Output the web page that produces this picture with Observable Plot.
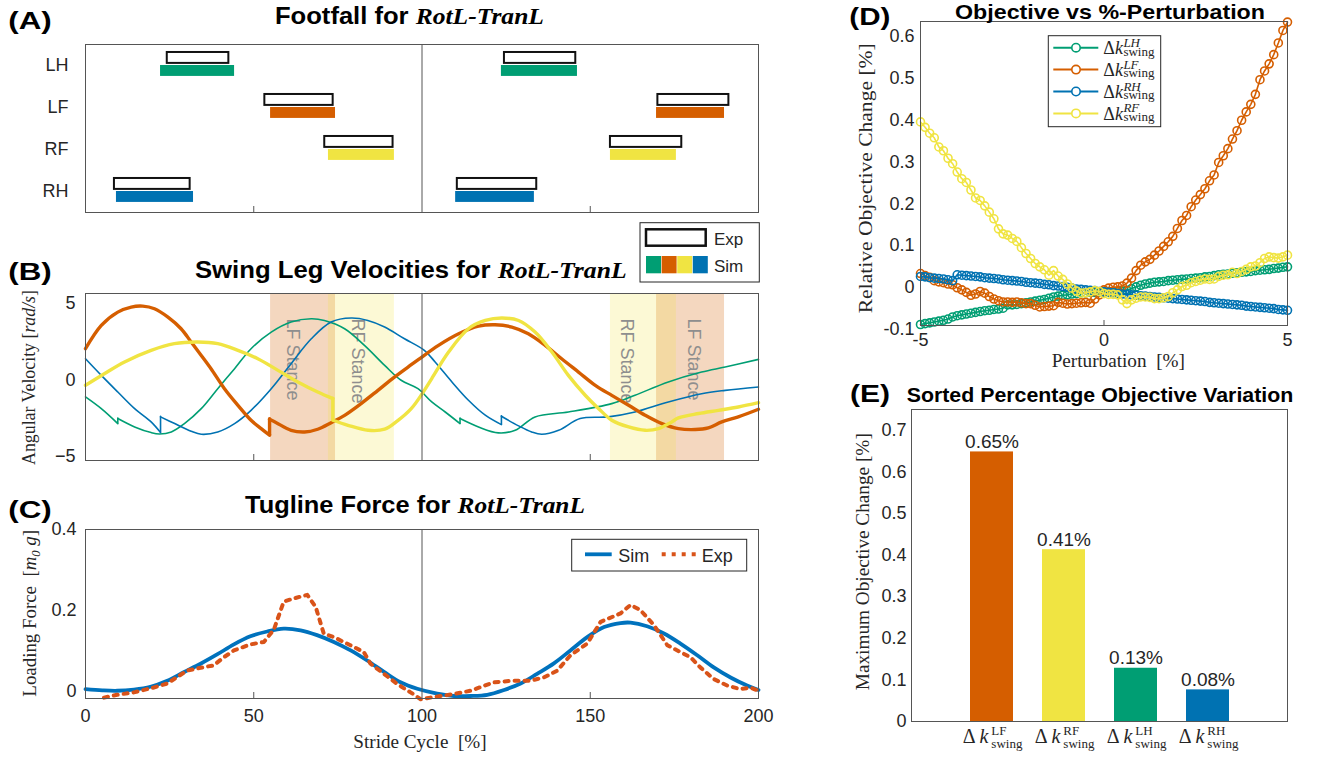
<!DOCTYPE html>
<html>
<head>
<meta charset="utf-8">
<script src="https://cdn.jsdelivr.net/npm/d3@7"></script>
<script src="https://cdn.jsdelivr.net/npm/@observablehq/plot@0.6"></script>
<style>
html,body{margin:0;padding:0;background:#fff;}
#root{position:relative;width:1319px;height:758px;overflow:hidden;background:#fff;}
.pl{position:absolute;}
</style>
</head>
<body>
<div id="root"></div>
<script>
// ================= DATA =================
const legs = ["LH", "LF", "RF", "RH"];
const legColors = ["#009E73", "#D55E00", "#F0E442", "#0072B2"];

// (A) footfall: stance intervals [% stride], per leg (LH, LF, RF, RH)
const expOn1  = [24.3, 53.3, 71.1, 8.6];
const expOff1 = [42.6, 73.6, 91.4, 31.1];
const expOn2  = [124.5, 170.1, 156.0, 110.5];
const expOff2 = [145.7, 191.2, 177.2, 134.1];
const simOn1  = [22.3, 55.0, 72.2, 9.2];
const simOff1 = [44.3, 74.3, 91.8, 32.1];
const simOn2  = [123.6, 169.7, 156.0, 110.0];
const simOff2 = [146.2, 189.9, 175.6, 133.4];

// (B) swing leg angular velocities [rad/s]; repeated x = discontinuity
const velLH_x = [0,4.7,9.6, 9.6,14.6,19.5,22.0,25.5,29.4,34.4,39.3,44.3,49.2,55.2,61.1,67.1,71.0,77.0,82.9,88.9,93.8,98.8,102.9,106.9,111.3, 111.3,116.8,122.7,127.7,133.6,143.5,156.4,163.3,173.2,183.1,190.1,200];
const velLH_v = [-1.11,-1.88,-2.86, -2.53,-3.08,-3.45,-3.54,-3.41,-2.86,-1.88,-0.57,0.74,2.05,3.14,3.80,4.01,3.90,3.36,2.27,0.96,-0.02,-0.57,-1.44,-2.10,-2.86, -2.53,-3.08,-3.47,-3.30,-2.42,-2.10,-1.55,-1.00,-0.13,0.52,0.85,1.35];
const velLF_x = [0,4.7,9.6,13.6,17.0,20.5,24.5,28.4,31.4,34.4,37.3,41.3,45.3,49.2,52.2,54.7, 54.7,56.7,61.1,65.1,69.0,73.0,77.0,81.9,86.9,91.8,96.8,99.0,104.9,110.9,116.8,121.7,126.7,131.6,136.6,141.5,146.5,151.5,156.4,161.4,166.3,171.3,176.2,181.2,185.1,189.1,194.0,200];
const velLF_v = [2.05,3.58,4.45,4.78,4.84,4.67,4.12,3.36,2.49,1.61,0.74,-0.57,-1.66,-2.64,-3.19,-3.62, -2.58,-2.80,-3.30,-3.41,-3.23,-2.80,-2.32,-1.55,-0.68,0.19,1.00,1.35,2.27,3.03,3.53,3.62,3.47,3.03,2.27,1.39,0.52,-0.35,-1.01,-1.66,-2.31,-2.86,-3.19,-3.25,-3.14,-2.75,-2.42,-1.92];
const velRF_x = [0,5.6,11.6,19.5,26.4,33.4,39.3,45.3,51.2,57.2,63.1,69.0,73.5, 73.5,78.0,84.0,88.9,92.3,96.8,100.7,102.9,107.9,113.8,118.8,123.7,128.7,133.6,138.6,143.5,148.5,152.5,156.4,161.4,166.3,170.3,174.2,176.2,182.2,188.1,194.0,200];
const velRF_v = [-0.35,0.41,1.18,1.94,2.38,2.49,2.38,1.94,1.39,0.63,-0.13,-0.79,-1.22, -2.64,-2.97,-3.30,-3.23,-2.75,-1.88,-0.68,0.09,1.83,3.36,3.90,4.06,3.90,3.14,1.83,0.30,-1.00,-1.88,-2.64,-3.08,-3.30,-3.19,-2.75,-2.49,-2.20,-1.99,-1.77,-1.49];
const velRH_x = [0,4.7,9.6,14.6,19.5,22.3, 22.3,26.5,31.4,34.4,39.3,44.3,49.2,55.2,61.1,67.1,73.0,79.0,83.9,88.9,94.8,100.7,103.9,108.9,113.8,118.8,123.6, 123.6,128.7,132.6,135.6,140.6,147.0,155.4,163.3,173.2,183.1,190.1,200];
const velRH_v = [1.39,0.30,-0.79,-1.88,-2.75,-3.45, -2.42,-2.86,-3.36,-3.56,-3.41,-2.86,-1.99,-0.57,1.07,2.70,3.80,4.06,3.90,3.47,2.70,1.94,1.18,-0.13,-1.33,-2.31,-2.93, -2.38,-3.01,-3.41,-3.56,-3.30,-2.53,-2.42,-2.10,-1.44,-0.90,-0.68,-0.46];

// (C) tugline force [m0 g]
const tugSimX = [0,5,9.4,14.4,19.3,24.3,29.2,34.2,39.1,44.1,49.0,54.0,58.9,63.9,68.8,73.8,78.8,83.7,88.7,93.6,98.6,104.5,109.5,114.4,119.4,124.4,129.3,134.2,139.2,144.1,149.1,154.1,159.0,162.0,166.9,171.9,176.8,181.8,186.7,191.7,196.6,200];
const tugSimV = [0.004,0.001,0.000,0.003,0.010,0.025,0.046,0.067,0.090,0.115,0.135,0.147,0.154,0.150,0.138,0.121,0.100,0.075,0.047,0.021,0.005,-0.007,-0.013,-0.013,-0.010,0.002,0.018,0.042,0.068,0.100,0.133,0.158,0.168,0.169,0.160,0.142,0.117,0.088,0.058,0.033,0.013,0.002];
const tugExpX = [5.5,9.4,14.4,20.3,24.3,30.2,34.2,38.1,41.1,44.1,49.0,53.0,56.0,58.9,61.9,65.9,68.4,70.8,73.8,78.7,82.7,84.7,88.7,92.6,96.6,99.6,102.5,109.5,114.4,121.3,127.3,132.2,136.2,140.2,144.1,149.1,153.1,159.0,162.0,164.9,168.9,172.9,176.8,179.8,182.7,186.7,190.7,194.6,197.6,200];
const tugExpV = [-0.017,-0.010,-0.004,0.008,0.018,0.050,0.057,0.063,0.083,0.100,0.115,0.121,0.152,0.221,0.229,0.238,0.208,0.142,0.133,0.113,0.096,0.067,0.042,0.017,-0.004,-0.021,-0.017,-0.008,0.000,0.021,0.025,0.025,0.033,0.050,0.088,0.117,0.171,0.192,0.213,0.200,0.163,0.113,0.096,0.083,0.058,0.029,0.013,0.004,0.008,0.000];

// (D) relative objective change [%] vs perturbation [%]
const perturb = [-5,-4.875,-4.75,-4.625,-4.5,-4.375,-4.25,-4.125,-4,-3.875,-3.75,-3.625,-3.5,-3.375,-3.25,-3.125,-3,-2.875,-2.75,-2.625,-2.5,-2.375,-2.25,-2.125,-2,-1.875,-1.75,-1.625,-1.5,-1.375,-1.25,-1.125,-1,-0.875,-0.75,-0.625,-0.5,-0.375,-0.25,-0.125,0,0.125,0.25,0.375,0.5,0.625,0.75,0.875,1,1.125,1.25,1.375,1.5,1.625,1.75,1.875,2,2.125,2.25,2.375,2.5,2.625,2.75,2.875,3,3.125,3.25,3.375,3.5,3.625,3.75,3.875,4,4.125,4.25,4.375,4.5,4.625,4.75,4.875,5];
const objLH = [-0.089,-0.087,-0.085,-0.083,-0.081,-0.079,-0.076,-0.071,-0.068,-0.066,-0.064,-0.062,-0.060,-0.058,-0.056,-0.055,-0.053,-0.052,-0.050,-0.042,-0.042,-0.041,-0.039,-0.037,-0.035,-0.033,-0.031,-0.029,-0.026,-0.023,-0.021,-0.019,-0.018,-0.016,-0.015,-0.013,-0.013,-0.012,-0.012,-0.011,-0.011,-0.011,-0.010,-0.010,-0.009,-0.007,-0.003,0.001,0.005,0.008,0.010,0.012,0.013,0.014,0.016,0.017,0.018,0.019,0.020,0.021,0.022,0.023,0.025,0.026,0.028,0.030,0.031,0.032,0.034,0.035,0.036,0.037,0.038,0.040,0.041,0.042,0.043,0.045,0.046,0.048,0.049];
const objLF = [0.033,0.028,0.024,0.016,0.013,0.011,0.008,0.006,-0.001,-0.006,-0.012,-0.019,-0.016,-0.010,-0.014,-0.022,-0.028,-0.032,-0.035,-0.035,-0.036,-0.035,-0.037,-0.039,-0.039,-0.043,-0.047,-0.046,-0.045,-0.044,-0.036,-0.038,-0.040,-0.039,-0.038,-0.037,-0.036,-0.038,-0.028,-0.018,-0.006,-0.002,0.000,0.001,0.003,0.010,0.022,0.040,0.053,0.061,0.067,0.077,0.087,0.098,0.109,0.122,0.141,0.160,0.172,0.193,0.209,0.222,0.236,0.255,0.269,0.299,0.315,0.332,0.355,0.375,0.400,0.420,0.438,0.462,0.497,0.518,0.535,0.557,0.585,0.615,0.635];
const objRH = [0.026,0.025,0.023,0.022,0.021,0.020,0.018,0.016,0.030,0.029,0.028,0.027,0.026,0.025,0.023,0.022,0.021,0.020,0.018,0.017,0.016,0.015,0.014,0.012,0.011,0.010,0.009,0.007,0.006,0.004,0.003,0.002,0.000,-0.002,-0.004,-0.005,-0.006,-0.007,-0.008,-0.010,-0.011,-0.012,-0.013,-0.015,-0.016,-0.017,-0.018,-0.019,-0.020,-0.021,-0.022,-0.023,-0.024,-0.025,-0.026,-0.027,-0.028,-0.029,-0.030,-0.031,-0.032,-0.033,-0.034,-0.036,-0.037,-0.038,-0.039,-0.040,-0.041,-0.042,-0.043,-0.045,-0.046,-0.047,-0.048,-0.049,-0.050,-0.051,-0.053,-0.054,-0.055];
const objRF = [0.396,0.383,0.369,0.358,0.336,0.327,0.309,0.296,0.276,0.260,0.251,0.233,0.214,0.208,0.195,0.180,0.164,0.140,0.128,0.125,0.117,0.110,0.095,0.081,0.069,0.057,0.049,0.042,0.029,0.040,0.027,0.019,0.008,-0.002,-0.009,-0.014,-0.013,-0.011,-0.008,-0.010,-0.015,-0.017,-0.017,-0.018,-0.030,-0.039,-0.030,-0.026,-0.023,-0.023,-0.024,-0.027,-0.027,-0.025,-0.022,-0.013,-0.006,0.002,0.005,0.011,0.014,0.017,0.020,0.019,0.020,0.026,0.029,0.030,0.036,0.033,0.038,0.043,0.049,0.051,0.059,0.069,0.073,0.071,0.070,0.073,0.077];

// (E) sorted maximum objective change [%]
const sortedLegs = ["LF", "RF", "LH", "RH"];
const maxChange = [0.648, 0.413, 0.128, 0.076];

// ================= HELPERS =================
const SANS = "'Liberation Sans', Arial, Helvetica, sans-serif";
const SERIF = "'Liberation Serif', 'Times New Roman', serif";
const INK = "#262626", FRAME = "#555";
const colorOf = leg => legColors[legs.indexOf(leg)];
const root = document.getElementById("root");
const baseStyle = {background: "transparent", overflow: "visible", fontFamily: SANS, fontSize: "18px", color: INK};
function dims(f, m) {
  return {width: f[2]-f[0]+m.l+m.r, height: f[3]-f[1]+m.t+m.b,
          marginLeft: m.l, marginRight: m.r, marginTop: m.t, marginBottom: m.b};
}
function place(svg, f, m) {
  const d = document.createElement("div");
  d.className = "pl";
  d.style.left = (f[0]-m.l) + "px";
  d.style.top = (f[1]-m.t) + "px";
  d.style.width = (f[2]-f[0]+m.l+m.r) + "px";
  d.appendChild(svg);
  root.appendChild(d);
  return svg;
}
const minusFmt = d => d < 0 ? "\u2212" + (-d) : String(d);
const noLab = {label: null};

// ================= (A) FOOTFALL =================
const rowOf = leg => 4 - legs.indexOf(leg);
const footExp = legs.flatMap((leg, i) => [{leg, on: expOn1[i], off: expOff1[i]}, {leg, on: expOn2[i], off: expOff2[i]}]);
const footSim = legs.flatMap((leg, i) => [{leg, on: simOn1[i], off: simOff1[i]}, {leg, on: simOn2[i], off: simOff2[i]}]);
const fA = [85, 44, 758, 212], mA = {t: 6, r: 6, b: 10, l: 80};
place(Plot.plot({
  ...dims(fA, mA), style: baseStyle,
  x: {domain: [0, 200], axis: null, label: null}, y: {domain: [0.5, 4.5], axis: null, label: null},
  color: {type: "identity"},
  marks: [
    Plot.rect(footSim, {x1: "on", x2: "off", y1: d => rowOf(d.leg) - 0.26, y2: d => rowOf(d.leg), fill: d => colorOf(d.leg)}),
    Plot.rect(footExp, {x1: "on", x2: "off", y1: d => rowOf(d.leg) + 0.05, y2: d => rowOf(d.leg) + 0.31, fill: "white", stroke: "#111", strokeWidth: 2}),
    Plot.ruleX([100], {stroke: FRAME}),
    Plot.frame({stroke: FRAME}),
    Plot.axisX([50, 150], {...noLab, anchor: "bottom", tickSize: -6, tickFormat: () => "", stroke: FRAME}),
    Plot.axisY(legs.map(rowOf), {...noLab, anchor: "left", tickSize: 0, tickPadding: 17, tickFormat: v => legs[4 - v], fontSize: 18})
  ]
}), fA, mA);

// ================= (B) VELOCITIES =================
function segs(xs, vs) {
  const pts = [], jumps = [];
  let s = 0;
  for (let i = 0; i < xs.length; i++) {
    if (i > 0 && xs[i] === xs[i-1]) { s++; jumps.push({x: xs[i], y1: vs[i-1], y2: vs[i]}); }
    pts.push({x: xs[i], v: vs[i], seg: s});
  }
  return {pts, jumps};
}
const stance = i => [{on: simOn1[i], off: simOff1[i]}, {on: simOn2[i], off: simOff2[i]}];
const stLF = stance(1), stRF = stance(2);
function freeCenter(a, others) {
  let lo = a.on, hi = a.off;
  for (const b of others) if (b.on < hi && b.off > lo) { if (b.on > lo) hi = Math.min(hi, b.on); else lo = Math.max(lo, b.off); }
  return (lo + hi) / 2;
}
const stanceText = [
  ...stLF.map(s => ({x: freeCenter(s, stRF), label: legs[1] + " Stance"})),
  ...stRF.map(s => ({x: freeCenter(s, stLF), label: legs[2] + " Stance"}))
];
const curves = [
  {leg: "LH", ...segs(velLH_x, velLH_v), w: 1.6},
  {leg: "RH", ...segs(velRH_x, velRH_v), w: 1.6},
  {leg: "LF", ...segs(velLF_x, velLF_v), w: 3.4},
  {leg: "RF", ...segs(velRF_x, velRF_v), w: 3.4}
];
const fB = [85, 293, 758, 460], mB = {t: 6, r: 6, b: 10, l: 80};
place(Plot.plot({
  ...dims(fB, mB), style: baseStyle,
  x: {domain: [0, 200], axis: null, label: null}, y: {domain: [-5.28, 5.67], axis: null, label: null},
  marks: [
    Plot.rect(stLF, {x1: "on", x2: "off", fill: colorOf("LF"), fillOpacity: 0.25}),
    Plot.rect(stRF, {x1: "on", x2: "off", fill: colorOf("RF"), fillOpacity: 0.22}),
    Plot.text(stanceText, {x: "x", frameAnchor: "top", dy: 25, text: "label", rotate: 90, textAnchor: "start", fill: "#8e8e8e", fontSize: 18}),
    ...curves.flatMap(c => [
      Plot.line(c.pts, {x: "x", y: "v", z: "seg", stroke: colorOf(c.leg), strokeWidth: c.w, curve: "catmull-rom", strokeLinecap: "round"}),
      Plot.ruleX(c.jumps, {x: "x", y1: "y1", y2: "y2", stroke: colorOf(c.leg), strokeWidth: c.w, strokeLinecap: "round"})
    ]),
    Plot.ruleX([100], {stroke: FRAME}),
    Plot.frame({stroke: FRAME}),
    Plot.axisX([50, 150], {...noLab, anchor: "bottom", tickSize: -6, tickFormat: () => "", stroke: FRAME}),
    Plot.axisY([-5, 0, 5], {...noLab, anchor: "left", tickSize: 0, tickPadding: 10, tickFormat: minusFmt, fontSize: 18})
  ]
}), fB, mB);

// ================= (C) TUGLINE =================
const tugSim = tugSimX.map((x, i) => ({x, v: tugSimV[i]}));
const tugExp = tugExpX.map((x, i) => ({x, v: tugExpV[i]}));
const fC = [85, 529, 758, 698], mC = {t: 6, r: 6, b: 40, l: 80};
place(Plot.plot({
  ...dims(fC, mC), style: baseStyle,
  x: {domain: [0, 200], axis: null, label: null}, y: {domain: [-0.0192, 0.4], axis: null, label: null},
  marks: [
    Plot.line(tugSim, {x: "x", y: "v", stroke: "#0072BD", strokeWidth: 3.8, curve: "catmull-rom"}),
    Plot.line(tugExp, {x: "x", y: "v", stroke: "#D95319", strokeWidth: 4, strokeDasharray: "4,6"}),
    Plot.ruleX([100], {stroke: FRAME}),
    Plot.frame({stroke: FRAME}),
    Plot.axisX([50, 150], {...noLab, anchor: "bottom", tickSize: -6, tickFormat: () => "", stroke: FRAME}),
    Plot.axisX([0, 50, 100, 150, 200], {...noLab, anchor: "bottom", tickSize: 0, tickPadding: 11, fontSize: 18}),
    Plot.axisY([0, 0.2, 0.4], {...noLab, anchor: "left", tickSize: 0, tickPadding: 9, tickFormat: d => String(d), fontSize: 18})
  ]
}), fC, mC);

// ================= (D) OBJECTIVE VS PERTURBATION =================
const objSeries = [["LH", objLH], ["LF", objLF], ["RH", objRH], ["RF", objRF]];
const fD = [920, 21, 1287, 325], mD = {t: 6, r: 6, b: 30, l: 60};
place(Plot.plot({
  ...dims(fD, mD), style: baseStyle,
  x: {domain: [-5, 5], axis: null, label: null}, y: {domain: [-0.0914, 0.6364], axis: null, label: null},
  marks: [
    ...objSeries.flatMap(([leg, vals]) => {
      const rows = perturb.map((p, i) => ({p, v: vals[i]}));
      return [
        Plot.line(rows, {x: "p", y: "v", stroke: colorOf(leg), strokeWidth: 1.6}),
        Plot.dot(rows, {x: "p", y: "v", r: 4, stroke: colorOf(leg), strokeWidth: 1.6, fill: "none"})
      ];
    }),
    Plot.frame({stroke: FRAME}),
    Plot.axisX([0], {...noLab, anchor: "bottom", tickSize: -5, tickFormat: () => "", stroke: FRAME}),
    Plot.axisX([-5, 0, 5], {...noLab, anchor: "bottom", tickSize: 0, tickPadding: 8, tickFormat: d => String(d), fontSize: 18}),
    Plot.axisY([-0.1, 0, 0.1, 0.2, 0.3, 0.4, 0.5, 0.6], {...noLab, anchor: "left", tickSize: 0, tickPadding: 6, tickFormat: d => String(d), fontSize: 18})
  ]
}), fD, mD);

// ================= (E) SORTED BARS =================
const eRows = sortedLegs.map((leg, i) => ({leg, val: maxChange[i]}));
const fE = [911, 409, 1287, 721], mE = {t: 6, r: 6, b: 40, l: 60};
const plotE = place(Plot.plot({
  ...dims(fE, mE), style: baseStyle,
  x: {type: "band", domain: sortedLegs, paddingInner: 0.404, paddingOuter: 0.806, axis: null, label: null},
  y: {domain: [0, 0.75], axis: null, label: null},
  color: {type: "identity"},
  marks: [
    Plot.barY(eRows, {x: "leg", y: "val", fill: d => colorOf(d.leg)}),
    Plot.text(eRows, {x: "leg", y: "val", text: d => d3.format(".2f")(d.val) + "%", dy: -10, fontSize: 19, fill: INK}),
    Plot.frame({stroke: FRAME}),
    Plot.axisY([0, 0.1, 0.2, 0.3, 0.4, 0.5, 0.6, 0.7], {...noLab, anchor: "left", tickSize: 0, tickPadding: 5, tickFormat: d => String(d), fontSize: 18})
  ]
}), fE, mE);

// ================= OVERLAY TEXT (titles, labels, legends) =================
const ov = d3.select(root).append("svg").attr("width", 1319).attr("height", 758)
  .style("position", "absolute").style("left", "0px").style("top", "0px");
function T(x, y, parts, o = {}) {
  const t = ov.append("text").attr("x", x).attr("y", y)
    .attr("text-anchor", o.anchor || "middle")
    .attr("font-family", o.family || SANS).attr("font-size", o.size || 18)
    .attr("font-weight", o.weight || "normal").attr("fill", o.fill || "#000");
  if (o.rotate) t.attr("transform", `rotate(${o.rotate},${x},${y})`);
  for (const p of [].concat(parts)) {
    const q = typeof p === "string" ? {t: p} : p;
    const s = t.append("tspan").text(q.t);
    if (q.family) s.attr("font-family", q.family);
    if (q.italic) s.attr("font-style", "italic");
    if (q.size) s.attr("font-size", q.size);
    if (q.dy) s.attr("dy", q.dy);
  }
  if (o.len) t.attr("textLength", o.len).attr("lengthAdjust", "spacingAndGlyphs");
  return t;
}
const it = s => ({t: s, family: SERIF, italic: true});
// panel titles
T(409.5, 24, ["Footfall for ", it("RotL-TranL")], {weight: "bold", size: 23, len: 269});
T(410.8, 278, ["Swing Leg Velocities for ", it("RotL-TranL")], {weight: "bold", size: 23, len: 431.7});
T(415, 512.7, ["Tugline Force for ", it("RotL-TranL")], {weight: "bold", size: 23, len: 340});
T(1110, 18.5, "Objective vs %-Perturbation", {weight: "bold", size: 21, len: 310});
T(1100, 401.7, "Sorted Percentage Objective Variation", {weight: "bold", size: 21, len: 386.6});
// panel letters
T(8.3, 28.5, "(A)", {anchor: "start", weight: "bold", size: 24, len: 43.5});
T(8.3, 280, "(B)", {anchor: "start", weight: "bold", size: 24, len: 43.5});
T(8.3, 518, "(C)", {anchor: "start", weight: "bold", size: 24, len: 43.5});
T(849.3, 25, "(D)", {anchor: "start", weight: "bold", size: 24, len: 41});
T(850, 401.7, "(E)", {anchor: "start", weight: "bold", size: 24, len: 40});
// axis labels
T(34.5, 377.5, ["Angular Velocity [", {t: "rad/s", italic: true}, "]"], {family: SERIF, size: 18, fill: INK, rotate: -90, len: 175});
T(36, 613.3, ["Loading Force\u00a0 [", {t: "m", italic: true}, {t: "0", italic: true, size: 12, dy: 4}, {t: "\u00a0g", italic: true, dy: -4}, "]"], {family: SERIF, size: 18, fill: INK, rotate: -90, len: 166.7});
T(420, 748.3, "Stride Cycle\u00a0 [%]", {family: SERIF, size: 19, fill: INK, len: 133.3});
T(872, 178.3, "Relative Objective Change [%]", {family: SERIF, size: 19, fill: INK, rotate: -90, len: 270});
T(1118.3, 366.5, "Perturbation\u00a0 [%]", {family: SERIF, size: 19, fill: INK, len: 133.3});
T(869.5, 561.7, "Maximum Objective Change [%]", {family: SERIF, size: 19, fill: INK, rotate: -90, len: 257});

// legend for (A)/(B): Exp / Sim
ov.append("rect").attr("x", 640).attr("y", 222.7).attr("width", 119.3).attr("height", 59.3).attr("fill", "white").attr("stroke", INK).attr("stroke-width", 1);
ov.append("rect").attr("x", 646).attr("y", 229.3).attr("width", 59.7).attr("height", 16.4).attr("fill", "white").attr("stroke", "#111").attr("stroke-width", 2.5);
legColors.forEach((c, i) => ov.append("rect").attr("x", 646 + i * 15.6).attr("y", 256).attr("width", 15).attr("height", 17.3).attr("fill", c));
T(714, 245, "Exp", {anchor: "start", size: 17, fill: INK});
T(714, 271.7, "Sim", {anchor: "start", size: 17, fill: INK});

// legend for (C)
ov.append("rect").attr("x", 571.7).attr("y", 539.3).attr("width", 175).attr("height", 31.7).attr("fill", "white").attr("stroke", INK).attr("stroke-width", 1);
ov.append("line").attr("x1", 585).attr("x2", 611.7).attr("y1", 554.3).attr("y2", 554.3).attr("stroke", "#0072BD").attr("stroke-width", 3.8);
ov.append("line").attr("x1", 661.7).attr("x2", 696).attr("y1", 554.3).attr("y2", 554.3).attr("stroke", "#D95319").attr("stroke-width", 4).attr("stroke-dasharray", "4,6");
T(618.3, 561.7, "Sim", {anchor: "start", size: 18, fill: INK});
T(701.7, 561.7, "Exp", {anchor: "start", size: 18, fill: INK});

// legend for (D)
ov.append("rect").attr("x", 1048.3).attr("y", 35.7).attr("width", 112.4).attr("height", 91).attr("fill", "white").attr("stroke", INK).attr("stroke-width", 1);
objSeries.forEach(([leg], k) => {
  const cy = 47.7 + k * 21.9, c = colorOf(leg);
  ov.append("line").attr("x1", 1053.3).attr("x2", 1098.3).attr("y1", cy).attr("y2", cy).attr("stroke", c).attr("stroke-width", 2);
  ov.append("circle").attr("cx", 1076).attr("cy", cy).attr("r", 4.2).attr("fill", "white").attr("stroke", c).attr("stroke-width", 1.6);
  const t = T(1103.3, cy + 6.3, ["\u0394", {t: "k", italic: true}], {anchor: "start", family: SERIF, size: 18, fill: INK});
  const w = t.node().getComputedTextLength();
  T(1103.3 + w + 0.5, cy - 1, {t: leg, italic: true}, {anchor: "start", family: SERIF, size: 13, fill: INK});
  T(1103.3 + w + 0.5, cy + 7.8, "swing", {anchor: "start", family: SERIF, size: 13, fill: INK});
});

// x tick labels for (E), positioned with the band scale
const sx = plotE.scale("x");
sortedLegs.forEach(leg => {
  const c = (fE[0] - mE.l) + sx.apply(leg) + sx.bandwidth / 2;
  const t = T(c - 28.8, 743.3, ["\u0394 ", {t: "k", italic: true}], {anchor: "start", family: SERIF, size: 20, fill: INK});
  const w = t.node().getComputedTextLength();
  T(c - 28.8 + w + 3, 735, leg, {anchor: "start", family: SERIF, size: 13, fill: INK});
  T(c - 28.8 + w + 3, 747.5, "swing", {anchor: "start", family: SERIF, size: 13, fill: INK});
});
</script>
</body>
</html>
